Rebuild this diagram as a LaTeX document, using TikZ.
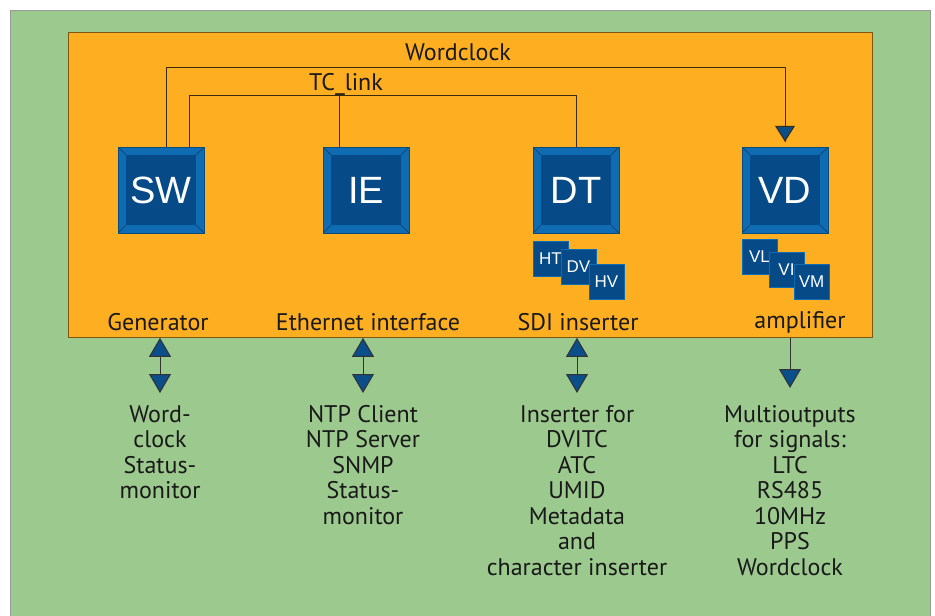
\documentclass[tikz,border=0pt]{standalone}
\usepackage{fontspec}
\setmainfont{PT Sans}
\newfontfamily\arialfont{Liberation Sans}
\usetikzlibrary{arrows.meta}
\definecolor{bggreen}{HTML}{9CC98E}
\definecolor{panel}{HTML}{FDAE21}
\definecolor{blueout}{HTML}{0F6CB3}
\definecolor{bluein}{HTML}{064B87}
\definecolor{tri}{HTML}{0A4E8A}
\definecolor{wirecol}{HTML}{3A2A10}
\tikzset{
  bigbox/.style={minimum width=86pt,minimum height=86pt,inner sep=0pt,fill=blueout,
    draw=blueout!70!black,line width=0.5pt,text=white,
    font=\arialfont\fontsize{38}{40}\selectfont,
    path picture={
      \fill[bluein] ([shift={(8pt,-8pt)}]path picture bounding box.north west) rectangle ([shift={(-8pt,8pt)}]path picture bounding box.south east);
      \draw[blueout!55!black,line width=0.5pt]
        (path picture bounding box.north west) -- ++(8pt,-8pt)
        (path picture bounding box.north east) -- ++(-8pt,-8pt)
        (path picture bounding box.south west) -- ++(8pt,8pt)
        (path picture bounding box.south east) -- ++(-8pt,8pt);
    }},
  smallbox/.style={minimum width=35pt,minimum height=35pt,inner sep=0pt,fill=bluein,
    draw=blueout,line width=1pt,text=white,font=\arialfont\fontsize{17}{19}\selectfont},
  lbl/.style={font=\fontsize{24}{25.5}\selectfont,text=black!90,inner sep=0pt},
  col/.style={font=\fontsize{24}{25.5}\selectfont,text=black!90,inner sep=0pt,align=center,anchor=north},
  wire/.style={draw=wirecol,line width=1pt},
  dbl/.style={wire,draw=black!80,{Triangle[width=22pt,length=19pt,fill=tri]}-{Triangle[width=22pt,length=19pt,fill=tri]}},
  sgl/.style={wire,draw=black!80,-{Triangle[width=22pt,length=19pt,fill=tri]}}
}
\begin{document}
\begin{tikzpicture}[x=1pt,y=-1pt]
\useasboundingbox (0,0) rectangle (935,616);
\fill[white] (0,0) rectangle (935,616);
\node[draw=gray!80,fill=bggreen,line width=0.8pt,minimum width=920pt,minimum height=610pt,inner sep=0pt,anchor=north west] (bg) at (10,10) {};
\node[draw=panel!50!black,fill=panel,line width=0.8pt,minimum width=804pt,minimum height=305pt,inner sep=0pt,anchor=north west] (main) at (68,32) {};

% big boxes
\node[bigbox] (sw) at (161,190) {SW};
\node[bigbox] (ie) at (366,190) {IE};
\node[bigbox] (dt) at (576,190) {DT};
\node[bigbox] (vd) at (785,190) {VD};

% small boxes
\node[smallbox] (ht) at (550.5,259) {HT};
\node[smallbox] (dv) at (578.5,267) {DV};
\node[smallbox] (hv) at (606.5,281.5) {HV};
\node[smallbox] (vl) at (759.5,256.5) {VL};
\node[smallbox] (vi) at (786.5,269.5) {VI};
\node[smallbox] (vm) at (811.5,281.5) {VM};

% wires
\coordinate (wc) at (166,67);
\coordinate (tc) at (189,95);
\draw[wire] ([xshift=5pt]sw.north) -- (wc) -| ([yshift=5pt]vd.north);
\draw[wire,-{Triangle[width=20pt,length=16pt,fill=tri]}] (wc -| vd.north) -- ([yshift=5pt]vd.north);
\draw[wire] ([xshift=28pt]sw.north) -- (tc) -| (dt.north);
\draw[wire] ([xshift=-27pt]ie.north) -- ([xshift=-27pt]ie.north |- tc);
\node[lbl] (wclbl) at (458,52) {Wordclock};
\node[lbl] (tclbl) at (346,84) {TC\_link};

% labels inside panel
\node[lbl] (gen) at (158,322) {Generator};
\node[lbl] (eth) at (368,322) {Ethernet interface};
\node[lbl] (sdi) at (578,322) {SDI inserter};
\node[lbl] (amp) at (800,322) {amplifier};

% bottom texts
\node[col] (t1) at (160,405) {Word-\\clock\\Status-\\monitor};
\node[col] (t2) at (363,405) {NTP Client\\NTP Server\\SNMP\\Status-\\monitor};
\node[col] (t3) at (577,405) {Inserter for\\DVITC\\ATC\\UMID\\Metadata\\and\\character inserter};
\node[col] (t4) at (790,405) {Multioutputs\\for signals:\\LTC\\RS485\\10MHz\\PPS\\Wordclock};

% arrows
\draw[dbl] (main.south -| t1.north) -- ([yshift=12pt]t1.north);
\draw[dbl] (main.south -| t2.north) -- ([yshift=12pt]t2.north);
\draw[dbl] (main.south -| t3.north) -- ([yshift=12pt]t3.north);
\draw[sgl] (main.south -| t4.north) -- ([yshift=17pt]t4.north);
\end{tikzpicture}
\end{document}
